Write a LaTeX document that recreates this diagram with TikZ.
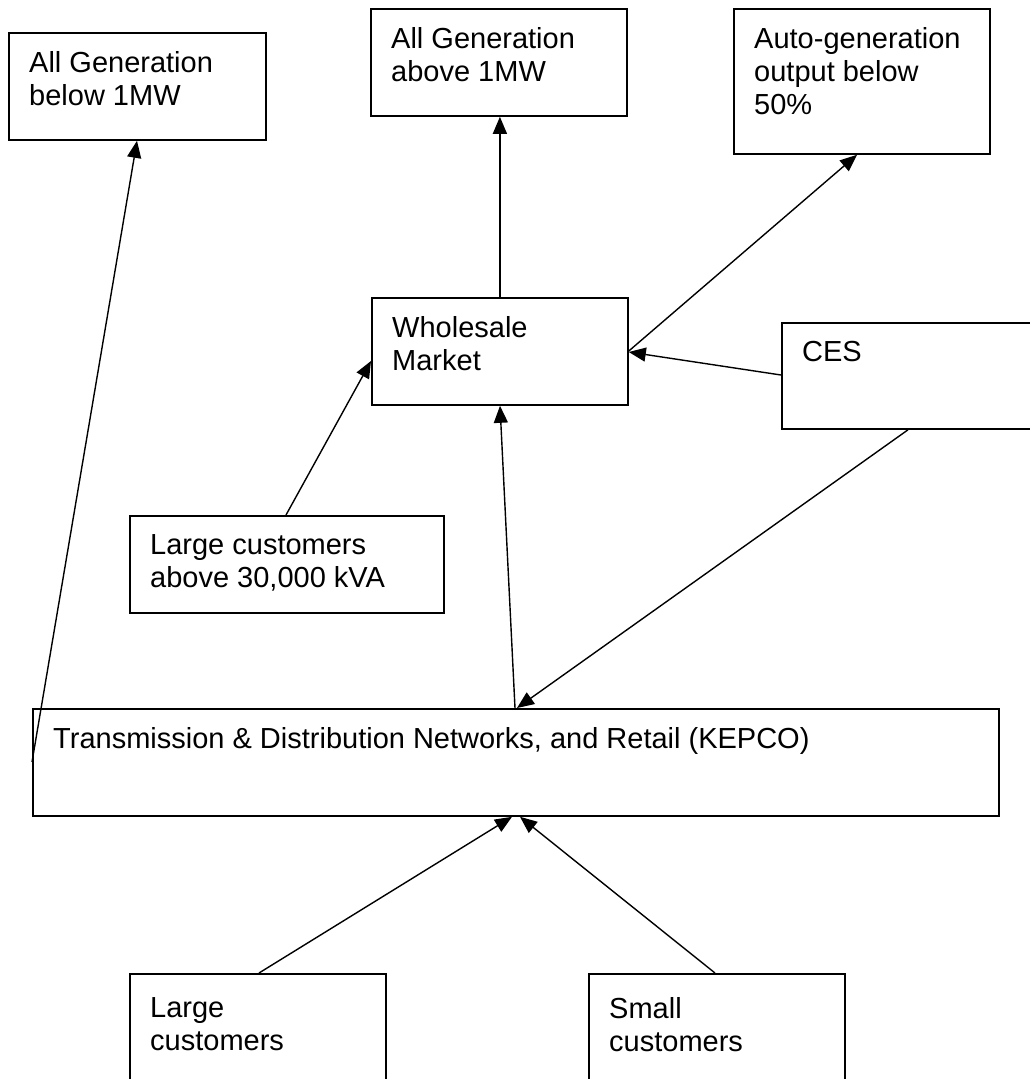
\documentclass[tikz,border=0pt]{standalone}
\usepackage{fontspec}
\setmainfont{Liberation Sans}
\usetikzlibrary{arrows.meta}
\begin{document}
\begin{tikzpicture}[x=1pt,y=-1pt,
  box/.style={draw=black, line width=1.8pt, fill=white, rectangle, anchor=north west, inner sep=0pt},
  txt/.style={anchor=north west, inner sep=0pt, align=left, font=\fontsize{29pt}{33pt}\selectfont},
  arr/.style={draw=black, line width=1.4pt, -{Triangle[length=17pt,width=14pt]}}]
\useasboundingbox (0,0) rectangle (1030,1079);
\fill[white] (0,0) rectangle (1030,1079);

% boxes
\node[box, minimum width=257pt, minimum height=107pt] (b1) at (8,32) {};
\node[box, minimum width=256pt, minimum height=107pt] (b2) at (370,8) {};
\node[box, minimum width=256pt, minimum height=145pt] (b3) at (733,8) {};
\node[box, minimum width=256pt, minimum height=107pt] (ws) at (371,297) {};
\node[box, minimum width=264pt, minimum height=106pt] (ces) at (781,322) {};
\node[box, minimum width=314pt, minimum height=97pt] (lc30) at (129,515) {};
\node[box, minimum width=966pt, minimum height=107pt] (tr) at (32,708) {};
\node[box, minimum width=256pt, minimum height=112pt] (lc) at (129,973) {};
\node[box, minimum width=256pt, minimum height=112pt] (sc) at (588,973) {};

% texts
\node[txt] (b1t) at ([xshift=21pt,yshift=-19pt]b1.north west) {All Generation\\below 1MW};
\node[txt] (b2t) at ([xshift=21pt,yshift=-19pt]b2.north west) {All Generation\\above 1MW};
\node[txt] (b3t) at ([xshift=21pt,yshift=-19pt]b3.north west) {Auto-generation\\output below\\50\%};
\node[txt] (wst) at ([xshift=21pt,yshift=-19pt]ws.north west) {Wholesale\\Market};
\node[txt] (cest) at ([xshift=21pt,yshift=-19pt]ces.north west) {CES};
\node[txt] (lc30t) at ([xshift=21pt,yshift=-19pt]lc30.north west) {Large customers\\above 30,000 kVA};
\node[txt] (trt) at ([xshift=21pt,yshift=-19pt]tr.north west) {Transmission \& Distribution Networks, and Retail (KEPCO)};
\node[txt] (lct) at ([xshift=21pt,yshift=-24pt]lc.north west) {Large\\customers};
\node[txt] (sct) at ([xshift=21pt,yshift=-24pt]sc.north west) {Small\\customers};

% connectors
\draw[arr] ([yshift=-54pt]tr.north west) -- ([xshift=129pt]b1.south west);
\draw[arr] (ws.north) -- (ws.north |- b2.south);
\draw[arr] ([yshift=-54pt]ws.north east) -- ([xshift=124pt]b3.south west);
\draw[arr] ([yshift=-53pt]ces.north west) -- ([yshift=-55pt]ws.north east);
\draw[arr] ([xshift=127pt]ces.south west) -- ([xshift=485pt]tr.north west);
\draw[arr] ([xshift=483pt]tr.north west) -- ([xshift=129pt]ws.south west);
\draw[arr] ([xshift=157pt]lc30.north west) -- ([yshift=-64pt]ws.north west);
\draw[arr] ([xshift=130pt]lc.north west) -- ([xshift=480pt]tr.south west);
\draw[arr] ([xshift=127pt]sc.north west) -- ([xshift=488pt]tr.south west);
\end{tikzpicture}
\end{document}
